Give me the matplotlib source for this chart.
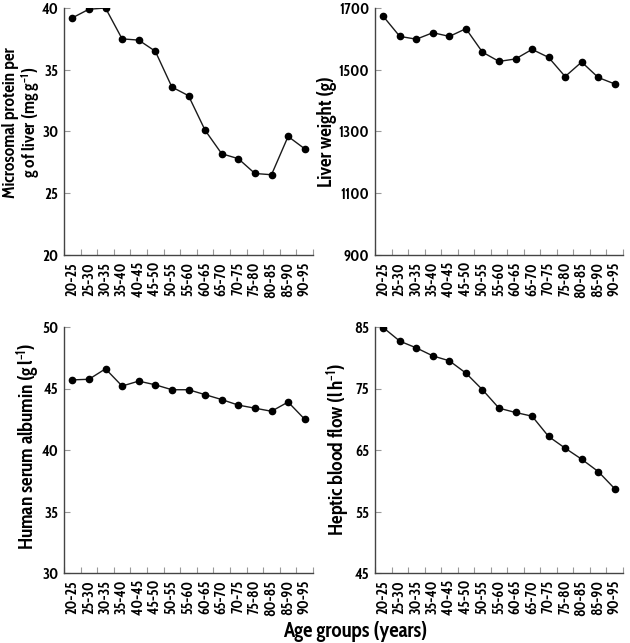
import matplotlib
matplotlib.use("Agg")
import matplotlib.pyplot as plt
import numpy as np

FONT = 'Cabin Condensed'
plt.rcParams['font.family'] = [FONT, 'DejaVu Sans']
plt.rcParams['font.weight'] = 'bold'
plt.rcParams['mathtext.fontset'] = 'custom'
plt.rcParams['mathtext.rm'] = FONT + ':bold'
plt.rcParams['mathtext.it'] = FONT + ':bold'
plt.rcParams['mathtext.bf'] = FONT + ':bold'
plt.rcParams['mathtext.default'] = 'rm'

age_groups = ["20-25", "25-30", "30-35", "35-40", "40-45", "45-50", "50-55",
              "55-60", "60-65", "65-70", "70-75", "75-80", "80-85", "85-90", "90-95"]

microsomal_protein = [39.2, 39.9, 40.0, 37.5, 37.4, 36.5, 33.6, 32.9, 30.1,
                      28.2, 27.8, 26.6, 26.5, 29.6, 28.6]
liver_weight = [1673, 1608, 1599, 1620, 1608, 1633, 1557, 1527, 1535,
                1566, 1540, 1478, 1525, 1475, 1454]
serum_albumin = [45.7, 45.75, 46.6, 45.2, 45.6, 45.3, 44.9, 44.9, 44.5,
                 44.1, 43.65, 43.4, 43.15, 43.9, 42.5]
hepatic_flow = [84.9, 82.7, 81.6, 80.3, 79.5, 77.5, 74.8, 71.8, 71.1,
                70.5, 67.2, 65.3, 63.5, 61.5, 58.7]

panels = [
    (microsomal_protein, "Microsomal protein per\ng of liver (mg g$^{-1}$)", (20, 40), [20, 25, 30, 35, 40]),
    (liver_weight, "Liver weight (g)", (900, 1700), [900, 1100, 1300, 1500, 1700]),
    (serum_albumin, "Human serum albumin (g$\\,$l$^{-1}$)", (30, 50), [30, 35, 40, 45, 50]),
    (hepatic_flow, "Heptic blood flow (l$\\,$h$^{-1}$)", (45, 85), [45, 55, 65, 75, 85]),
]

W, H = 630, 643
fig = plt.figure(figsize=(W / 100, H / 100), dpi=100)

boxes = [
    (64, 8, 313, 255),
    (375, 8, 623, 255),
    (64, 327, 313, 573),
    (375, 327, 623, 573),
]
label_pos = [(22, 0.535), (327, 0.5), (28, 0.515), (338, 0.5)]
label_size = [12.5, 14, 14, 14]

spine_col = "#444444"
x = np.arange(len(age_groups))
for (vals, label, ylim, yticks), (l, t, r, b), (lx, ly), fs in zip(panels, boxes, label_pos, label_size):
    ax = fig.add_axes([l / W, 1 - b / H, (r - l) / W, (b - t) / H])
    ax.plot(x, vals, color="#1a1a1a", lw=1.0, marker="o", ms=4.5,
            markerfacecolor="black", markeredgecolor="black")
    ax.set_xlim(-0.5, len(age_groups) - 0.5)
    ax.set_ylim(*ylim)
    ax.set_yticks(yticks)
    ax.set_yticklabels([str(v) for v in yticks], fontsize=11, fontweight='bold')
    ax.set_xticks(x)
    ax.set_xticklabels(age_groups, rotation=90, fontsize=10.5, fontweight='bold')
    ax.tick_params(axis='x', length=0, pad=5)
    ax.set_xticks(np.arange(-0.5, len(age_groups), 1.0), minor=True)
    ax.tick_params(axis='x', which='minor', direction='in', length=4,
                   color="#999999", width=0.8)
    ax.tick_params(axis='y', direction='in', length=4, color="#999999",
                   width=0.8, pad=4)
    for s in ("top", "right"):
        ax.spines[s].set_visible(False)
    for s in ("left", "bottom"):
        ax.spines[s].set_color(spine_col)
        ax.spines[s].set_linewidth(1.0)
    ax.set_ylabel(label, fontsize=fs, fontweight='bold', linespacing=1.0,
                  va='center')
    ax.yaxis.set_label_coords((lx - l) / (r - l), ly)

fig.text(355 / W, 1 - 632 / H, "Age groups (years)", ha='center', va='center',
         fontsize=15, fontweight='bold')

fig.savefig("out.png", dpi=100)
